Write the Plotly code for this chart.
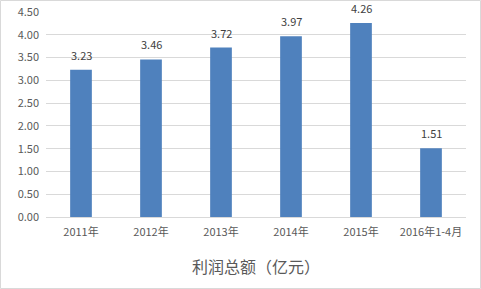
import plotly.graph_objects as go

categories = ["2011年", "2012年", "2013年", "2014年", "2015年", "2016年1-4月"]
values = [3.23, 3.46, 3.72, 3.97, 4.26, 1.51]
y_ticks = [0, 0.5, 1.0, 1.5, 2.0, 2.5, 3.0, 3.5, 4.0, 4.5]
axis_title = "利润总额（亿元）"

font_family = "Noto Sans CJK SC, Liberation Sans, sans-serif"

fig = go.Figure()
fig.add_trace(go.Bar(
    x=categories,
    y=values,
    marker=dict(color="#4F81BD", line=dict(width=0)),
    width=0.31,
    cliponaxis=False,
))

for c, v in zip(categories, values):
    fig.add_annotation(
        x=c, y=v, text=f"{v:.2f}", showarrow=False,
        yanchor="bottom", yshift=5,
        font=dict(size=11, color="#404040", family=font_family),
    )

L, R, T, B = 46, 15, 12, 72
W, H = 481, 289
pw, ph = W - L - R, H - T - B

fig.update_layout(
    width=W, height=H,
    margin=dict(l=L, r=R, t=T, b=B, pad=0),
    paper_bgcolor="white",
    plot_bgcolor="white",
    showlegend=False,
    bargap=0.69,
    font=dict(family=font_family, size=11, color="#595959"),
    xaxis=dict(
        automargin=False,
        showgrid=False,
        showline=True,
        linecolor="#D9D9D9",
        linewidth=1,
        ticks="",
        ticklabelstandoff=5,
        tickfont=dict(size=11, color="#595959"),
        title=dict(text=axis_title, font=dict(size=16, color="#595959"), standoff=23),
    ),
    yaxis=dict(
        automargin=False,
        range=[0, 4.5],
        tickvals=y_ticks,
        tickformat=".2f",
        showgrid=True,
        gridcolor="#D9D9D9",
        gridwidth=1,
        zeroline=False,
        showline=False,
        ticks="",
        ticklabelstandoff=6,
        tickfont=dict(size=11, color="#595959"),
    ),
    shapes=[dict(
        type="rect", xref="paper", yref="paper",
        x0=(0.5 - L) / pw, x1=(W - 0.5 - L) / pw,
        y0=-(H - 0.5 - T - ph) / ph, y1=(ph + T - 0.5) / ph,
        line=dict(color="#D9D9D9", width=1),
        fillcolor="rgba(0,0,0,0)",
        layer="above",
    )],
)

fig.write_html("out.html")
